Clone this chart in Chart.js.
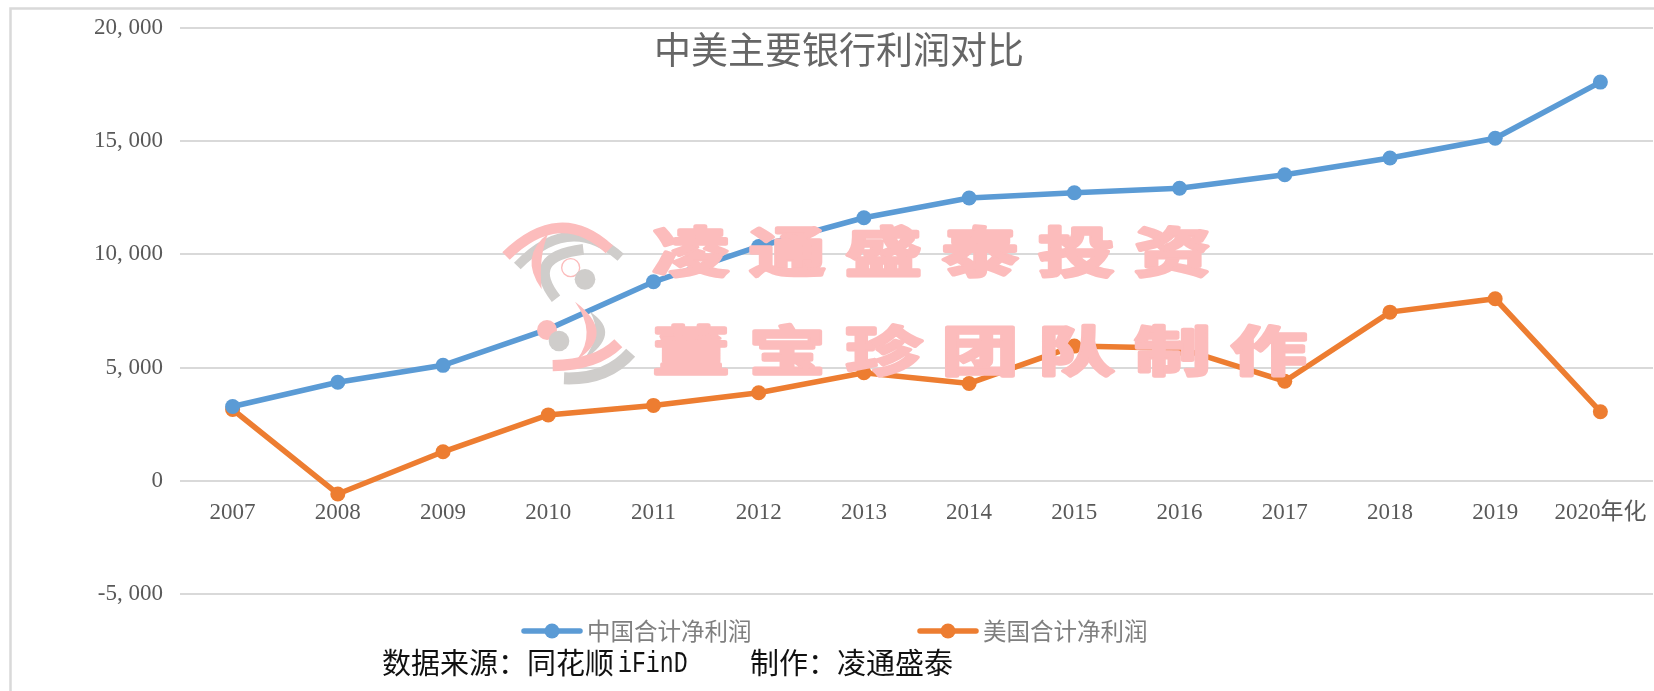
<!DOCTYPE html>
<html lang="zh">
<head>
<meta charset="utf-8">
<title>中美主要银行利润对比</title>
<script src="https://cdn.jsdelivr.net/npm/chart.js@4/dist/chart.umd.min.js"></script>
<style>
    body { margin: 0; background: #fff; }
    canvas { display: block; }
</style>
</head>
<body>
<canvas id="myChart" width="1654" height="691"></canvas>
<script>
const categories = ["2007", "2008", "2009", "2010", "2011", "2012", "2013", "2014", "2015", "2016", "2017", "2018", "2019", "2020年化"];
const chinaProfit = [3280, 4350, 5100, 6700, 8790, 10350, 11620, 12490, 12720, 12920, 13520, 14260, 15130, 17610];
const usProfit = [3150, -580, 1280, 2910, 3330, 3890, 4770, 4300, 5950, 5860, 4400, 7450, 8040, 3050];
const yTicks = [-5000, 0, 5000, 10000, 15000, 20000];
const yTickLabels = ["-5, 000", "0", "5, 000", "10, 000", "15, 000", "20, 000"];
const seriesNames = ["中国合计净利润", "美国合计净利润"];
const seriesColors = ["#5b9bd5", "#ed7d31"];
const titleText = "中美主要银行利润对比";
const sourceParts = ["数据来源：同花顺", "iFinD", "制作：凌通盛泰"];
const watermarkRows = ["凌通盛泰投资", "董宝珍团队制作"];

const labelFont = '"Liberation Serif", "Noto Sans CJK SC", serif';
const pink = "#fcbcbc";
const grey = "#cfcdcb";

// 外框 (chỉ có cạnh trên và cạnh trái)
const framePlugin = {
    id: "frame",
    beforeDraw(chart) {
        const c = chart.ctx;
        c.save();
        c.strokeStyle = "#d9d9d9";
        c.lineWidth = 2.5;
        c.beginPath();
        c.moveTo(10.5, 691);
        c.lineTo(10.5, 8.5);
        c.lineTo(1654, 8.5);
        c.stroke();
        c.restore();
    },
};

function band(c, color, width, x0, y0, cx, cy, x1, y1) {
    c.strokeStyle = color;
    c.lineWidth = width;
    c.beginPath();
    c.moveTo(x0, y0);
    c.quadraticCurveTo(cx, cy, x1, y1);
    c.stroke();
}

function crescent(c, color, x0, y0, outerX, outerY, x1, y1, innerX, innerY) {
    c.fillStyle = color;
    c.beginPath();
    c.moveTo(x0, y0);
    c.quadraticCurveTo(outerX, outerY, x1, y1);
    c.quadraticCurveTo(innerX, innerY, x0, y0);
    c.fill();
}

function dot(c, color, x, y, r) {
    c.fillStyle = color;
    c.beginPath();
    c.arc(x, y, r, 0, Math.PI * 2);
    c.fill();
}

// logo, tọa độ theo ảnh zoom 3x
function drawLogo(c) {
    c.save();
    c.translate(480, 200);
    c.scale(1 / 3, 1 / 3);
    c.lineCap = "butt";
    // phần trên
    band(c, grey, 28, 112, 198, 270, 35, 422, 172);
    band(c, grey, 32, 228, 296, 130, 170, 310, 148);
    band(c, pink, 32, 78, 168, 240, 10, 388, 148);
    crescent(c, pink, 205, 100, 115, 170, 185, 268, 175, 170);
    c.strokeStyle = pink;
    c.lineWidth = 4;
    c.fillStyle = "#fff";
    c.beginPath();
    c.arc(272, 203, 27, 0, Math.PI * 2);
    c.fill();
    c.stroke();
    dot(c, grey, 315, 238, 31);
    // phần dưới
    dot(c, pink, 201, 390, 30);
    dot(c, grey, 237, 423, 31);
    crescent(c, grey, 330, 335, 430, 400, 310, 480, 370, 400);
    band(c, grey, 36, 452, 458, 380, 540, 252, 535);
    crescent(c, pink, 285, 305, 412, 400, 290, 480, 352, 400);
    band(c, pink, 34, 415, 430, 350, 495, 218, 497);
    c.restore();
}

// 水印画在折线上面
const watermarkPlugin = {
    id: "watermark",
    afterDatasetsDraw(chart) {
        const c = chart.ctx;
        c.save();
        c.lineCap = "round";
        c.lineJoin = "round";
        drawLogo(c);
        c.font = 'bold 76px "Noto Sans CJK SC", sans-serif';
        c.textAlign = "center";
        c.textBaseline = "middle";
        c.fillStyle = pink;
        c.strokeStyle = pink;
        c.lineWidth = 5;
        watermarkRows.forEach((row, r) => {
            Array.from(row).forEach((ch, i) => {
                c.save();
                c.translate(691 + i * 96.3, 252 + r * 99);
                c.scale(1, 0.7);
                c.strokeText(ch, 0, 0);
                c.fillText(ch, 0, 0);
                c.restore();
            });
        });
        c.restore();
    },
};

// 标题, 图例, 数据来源
const textPlugin = {
    id: "overlayText",
    afterDraw(chart) {
        const c = chart.ctx;
        c.save();
        c.textBaseline = "middle";
        c.textAlign = "center";
        c.fillStyle = "#666";
        c.font = '37px "Noto Sans CJK SC", sans-serif';
        c.fillText(titleText, 839, 50);

        const legendX = [524, 920];
        const legendY = 631;
        seriesNames.forEach((name, i) => {
            c.strokeStyle = seriesColors[i];
            c.fillStyle = seriesColors[i];
            c.lineWidth = 5.5;
            c.lineCap = "round";
            c.beginPath();
            c.moveTo(legendX[i], legendY);
            c.lineTo(legendX[i] + 56, legendY);
            c.stroke();
            c.beginPath();
            c.arc(legendX[i] + 28, legendY, 7.5, 0, Math.PI * 2);
            c.fill();
            c.textAlign = "left";
            c.fillStyle = "#7f7f7f";
            c.font = '23.5px "Noto Sans CJK SC", sans-serif';
            c.fillText(name, legendX[i] + 63, legendY);
        });

        c.textAlign = "left";
        c.fillStyle = "#111";
        c.font = '29px "Noto Sans CJK SC", sans-serif';
        c.fillText(sourceParts[0], 382, 663);
        c.fillText(sourceParts[2], 750, 663);
        // iFinD: chữ đơn cách, ép ngang cho khớp bề rộng
        c.translate(618, 664);
        c.scale(0.8, 1);
        c.font = '29px "Liberation Mono", monospace';
        c.fillText(sourceParts[1], 0, 0);
        c.restore();
    },
};

const ctx = document.getElementById("myChart").getContext("2d");

new Chart(ctx, {
    type: "line",
    data: {
        labels: categories,
        datasets: [chinaProfit, usProfit].map((values, i) => ({
            label: seriesNames[i],
            data: values,
            borderColor: seriesColors[i],
            backgroundColor: seriesColors[i],
            borderWidth: 5.5,
            borderCapStyle: "round",
            pointRadius: 7.5,
            pointBorderWidth: 0,
            tension: 0,
            clip: false,
        })),
    },
    plugins: [framePlugin, watermarkPlugin, textPlugin],
    options: {
        responsive: false,
        animation: false,
        events: [],
        layout: {
            // autoPadding off: the end markers would otherwise pull the right edge in
            autoPadding: false,
            padding: { top: 28, right: 1, bottom: 97, left: 0 },
        },
        plugins: {
            legend: { display: false },
            title: { display: false },
            tooltip: { enabled: false },
        },
        scales: {
            x: {
                position: { y: 0 },
                offset: true,
                grid: { display: false },
                border: { display: false },
                ticks: {
                    autoSkip: false,
                    maxRotation: 0,
                    padding: 0,
                    color: "#595959",
                    font: { family: labelFont, size: 23, lineHeight: 2.07 },
                },
            },
            y: {
                min: -5000,
                max: 20000,
                afterFit: (scale) => {
                    scale.width = 180;
                    scale.paddingTop = 0;
                    scale.paddingBottom = 0;
                },
                afterBuildTicks: (scale) => {
                    scale.ticks = yTicks.map((value) => ({ value }));
                },
                grid: {
                    color: "#d9d9d9",
                    lineWidth: 2,
                    drawTicks: false,
                },
                border: { display: false },
                ticks: {
                    padding: 17,
                    color: "#595959",
                    font: { family: labelFont, size: 23 },
                    callback: (val, index) => yTickLabels[index],
                },
            },
        },
    },
});
</script>
</body>
</html>
